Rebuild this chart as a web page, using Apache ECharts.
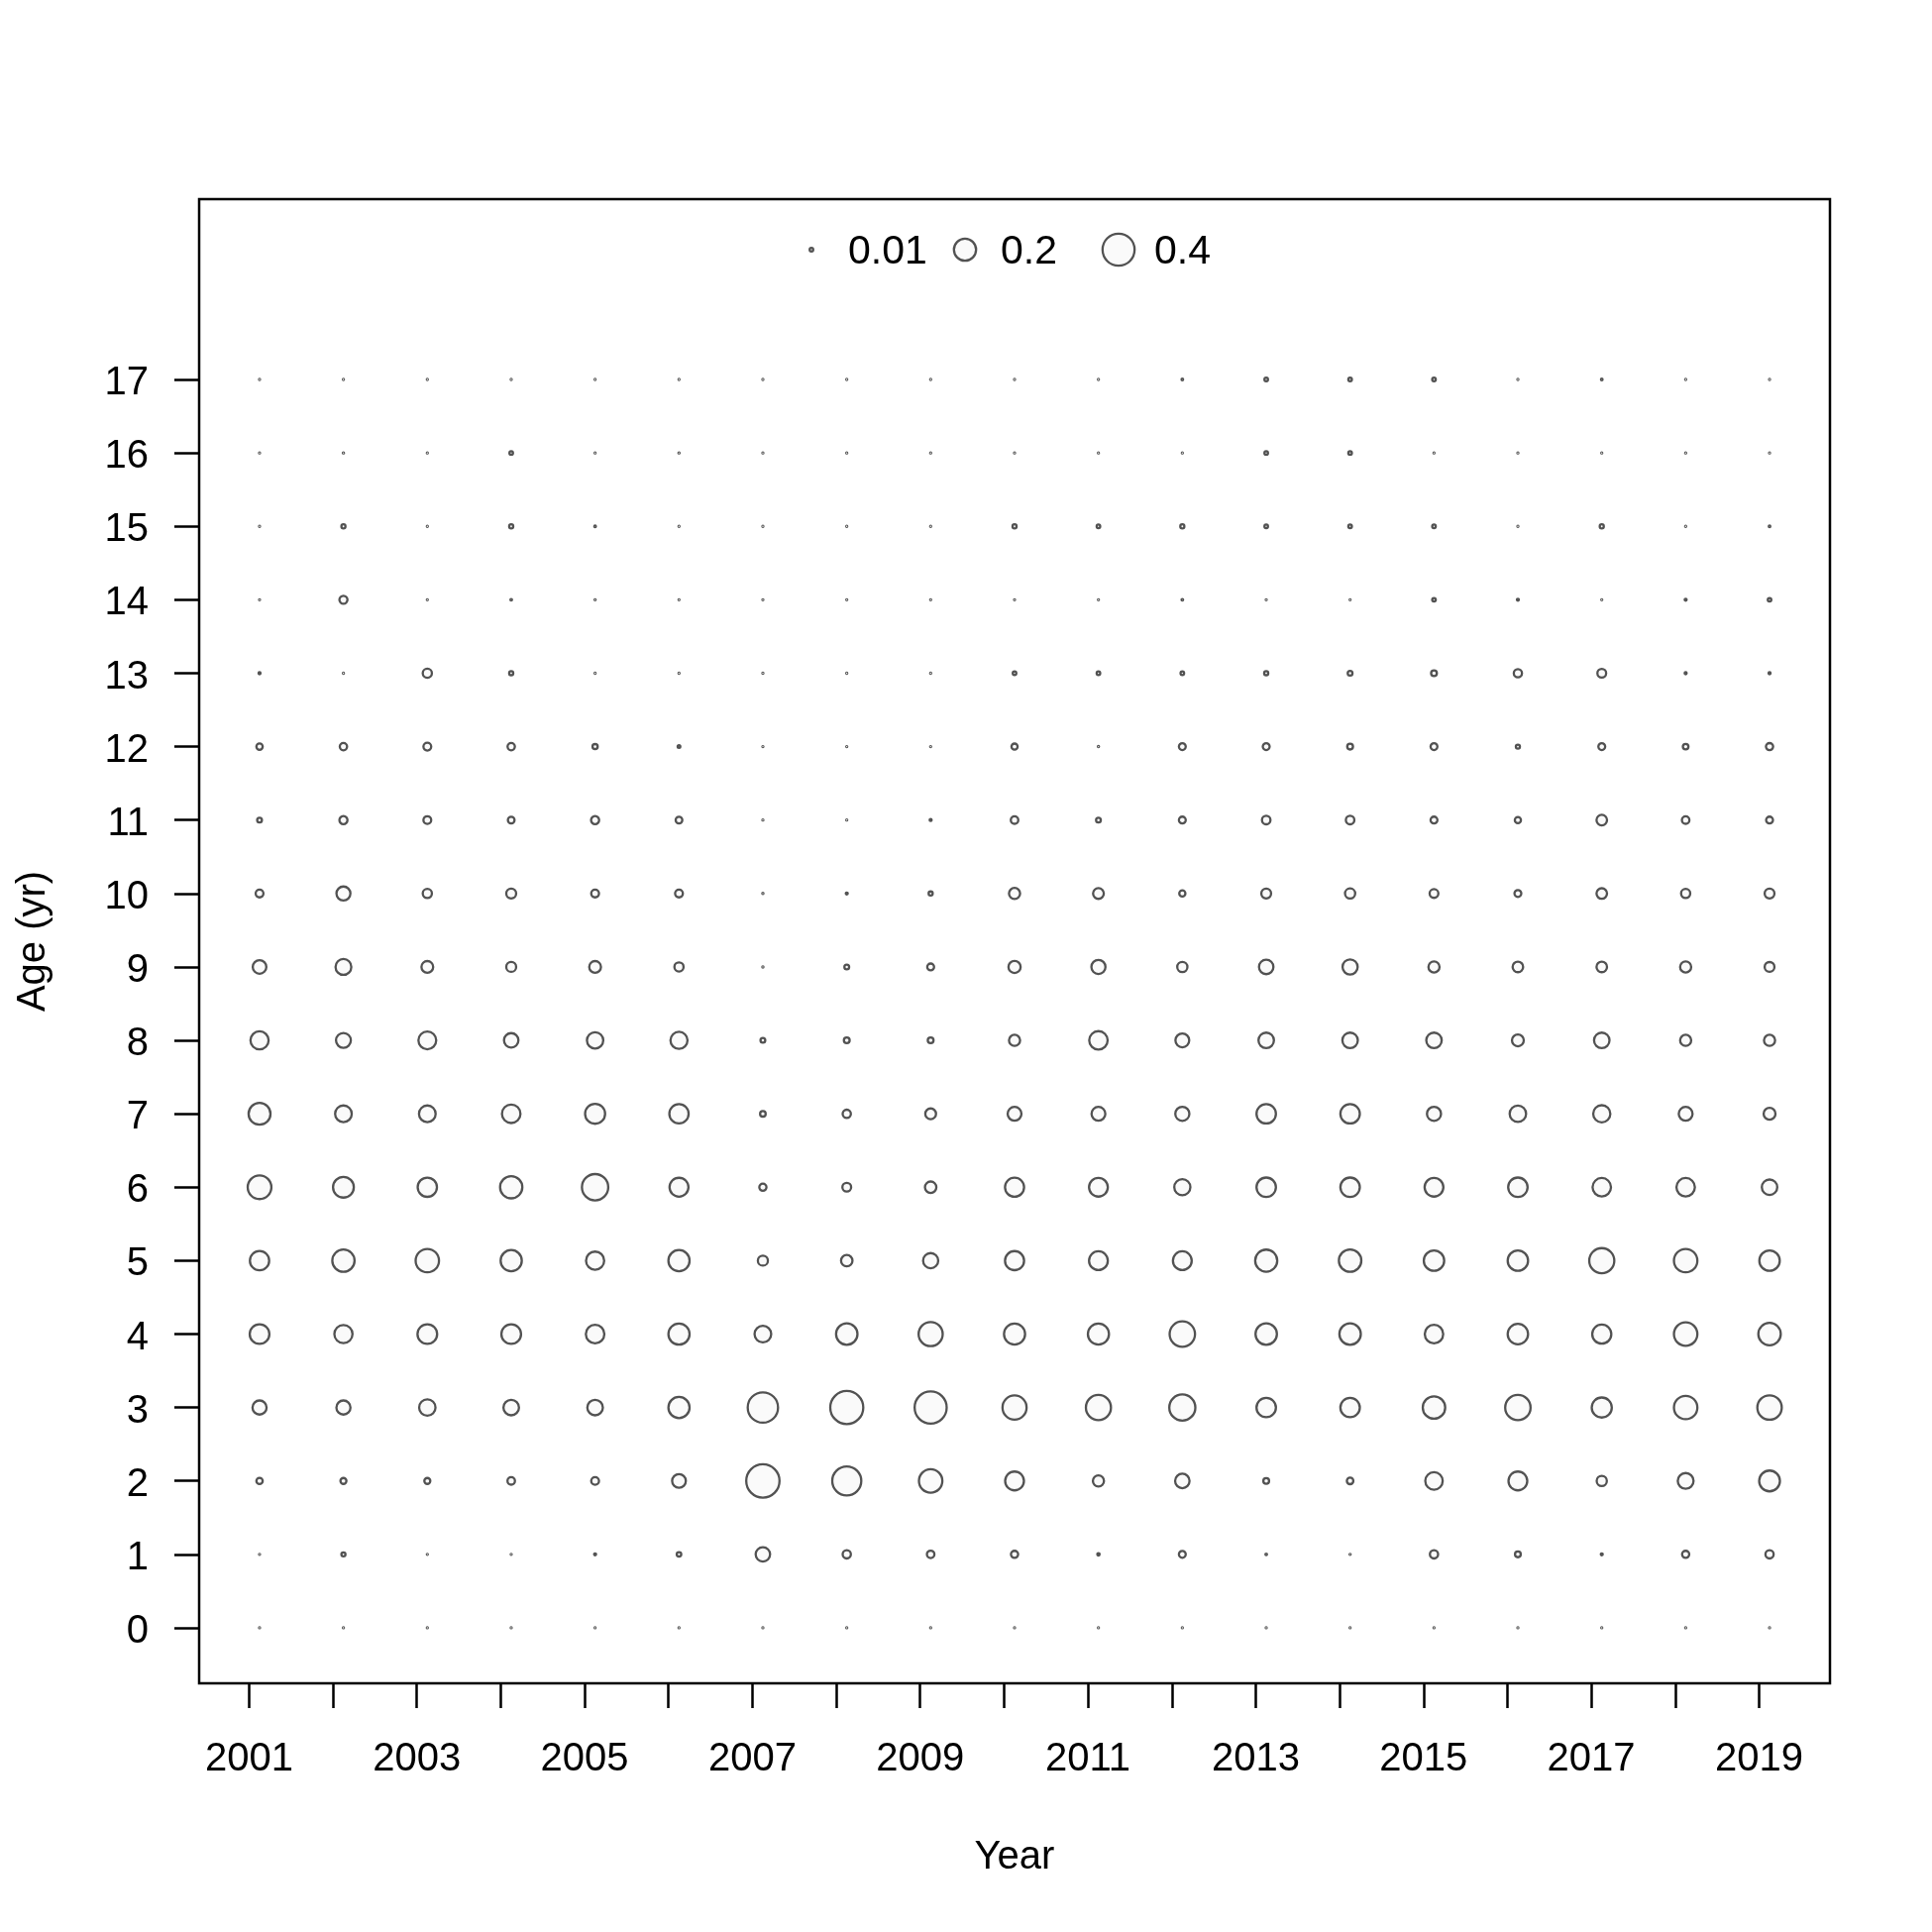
<!DOCTYPE html>
<html>
<head>
<meta charset="utf-8">
<script src="https://cdn.jsdelivr.net/npm/echarts@6/dist/echarts.min.js"></script>
<style>html,body{margin:0;padding:0;background:#fff}#c{width:1950px;height:1950px}</style>
</head>
<body>
<div id="c"></div>
<script>
// ---- data ----
const years = [2001,2002,2003,2004,2005,2006,2007,2008,2009,2010,2011,2012,2013,2014,2015,2016,2017,2018,2019];
const yearLabels = [2001,2003,2005,2007,2009,2011,2013,2015,2017,2019];
const ageTicks = [0,1,2,3,4,5,6,7,8,9,10,11,12,13,14,15,16,17];
const legendValues = [0.01, 0.2, 0.4];
const legendLabels = ['0.01', '0.2', '0.4'];
const sampleOffset = 0.125; // sampling time within year

// proportion at age, one array per age, columns = years 2001..2019
const age0  = [0.002,0.002,0.002,0.002,0.002,0.002,0.002,0.002,0.002,0.002,0.002,0.002,0.002,0.002,0.002,0.002,0.002,0.002,0.002];
const age1  = [0.002,0.012,0.002,0.002,0.005,0.014,0.092,0.035,0.030,0.028,0.006,0.026,0.004,0.003,0.035,0.020,0.005,0.028,0.035];
const age2  = [0.023,0.021,0.021,0.030,0.032,0.084,0.430,0.332,0.222,0.148,0.058,0.092,0.020,0.024,0.129,0.148,0.050,0.108,0.178];
const age3  = [0.088,0.088,0.115,0.105,0.105,0.184,0.360,0.423,0.400,0.234,0.252,0.271,0.157,0.157,0.205,0.258,0.167,0.222,0.240];
const age4  = [0.161,0.139,0.161,0.161,0.144,0.184,0.119,0.188,0.234,0.183,0.183,0.258,0.188,0.188,0.143,0.172,0.152,0.222,0.205];
const age5  = [0.155,0.202,0.221,0.184,0.139,0.184,0.049,0.061,0.100,0.152,0.148,0.148,0.199,0.205,0.172,0.172,0.252,0.222,0.172];
const age6  = [0.227,0.178,0.155,0.202,0.276,0.150,0.028,0.039,0.061,0.152,0.148,0.112,0.157,0.157,0.148,0.157,0.143,0.143,0.104];
const age7  = [0.196,0.119,0.119,0.144,0.166,0.155,0.019,0.035,0.055,0.085,0.085,0.088,0.157,0.157,0.088,0.116,0.125,0.085,0.065];
const age8  = [0.139,0.097,0.134,0.092,0.115,0.124,0.015,0.020,0.020,0.058,0.143,0.085,0.104,0.104,0.104,0.065,0.104,0.058,0.058];
const age9  = [0.083,0.108,0.064,0.048,0.064,0.042,0.003,0.015,0.026,0.068,0.088,0.050,0.092,0.100,0.058,0.053,0.053,0.058,0.047];
const age10 = [0.032,0.087,0.042,0.048,0.032,0.032,0.003,0.005,0.012,0.058,0.055,0.022,0.047,0.050,0.039,0.026,0.053,0.042,0.047];
const age11 = [0.015,0.034,0.032,0.025,0.034,0.025,0.002,0.002,0.005,0.030,0.015,0.026,0.037,0.037,0.026,0.022,0.053,0.030,0.026];
const age12 = [0.023,0.029,0.032,0.029,0.017,0.007,0.002,0.002,0.002,0.022,0.003,0.026,0.026,0.020,0.026,0.012,0.026,0.019,0.028];
const age13 = [0.005,0.002,0.042,0.012,0.002,0.002,0.002,0.002,0.002,0.010,0.010,0.010,0.012,0.015,0.020,0.035,0.039,0.005,0.005];
const age14 = [0.002,0.034,0.002,0.004,0.003,0.002,0.002,0.002,0.002,0.002,0.002,0.004,0.002,0.002,0.010,0.005,0.002,0.005,0.010];
const age15 = [0.002,0.012,0.002,0.012,0.004,0.002,0.002,0.002,0.002,0.012,0.010,0.012,0.010,0.010,0.010,0.002,0.012,0.002,0.004];
const age16 = [0.002,0.003,0.002,0.010,0.002,0.003,0.002,0.002,0.002,0.002,0.002,0.002,0.010,0.010,0.002,0.002,0.002,0.002,0.002];
const age17 = [0.002,0.002,0.002,0.002,0.002,0.002,0.002,0.002,0.002,0.002,0.002,0.004,0.010,0.010,0.010,0.002,0.004,0.002,0.002];
const ageRows = [age0,age1,age2,age3,age4,age5,age6,age7,age8,age9,age10,age11,age12,age13,age14,age15,age16,age17];

// ---- build ----
const STROKE = '#525252', FILL = '#fafafa', LW = 2.3;
function bubbleSize(p){ return Math.max(1, 54*Math.sqrt(p) - 1.8); }

const points = [];
ageRows.forEach((row, a) => {
  row.forEach((p, i) => { points.push([years[i] + sampleOffset, ageTicks[a], p]); });
});

const FONT = '"Liberation Sans", Arial, sans-serif';
const chart = echarts.init(document.getElementById('c'), null, {renderer:'canvas'});

const legendX = [819, 974, 1129];
const legendTextX = [856, 1010, 1165];
const graphics = [];
legendValues.forEach((v, i) => {
  const r = bubbleSize(v)/2;
  graphics.push({type:'circle', shape:{cx:legendX[i], cy:252, r:r}, style:{fill:FILL, stroke:STROKE, lineWidth:LW}, silent:true});
  graphics.push({type:'text', x:legendTextX[i], y:255, style:{text:legendLabels[i], font:'41px ' + FONT, fill:'#000', textAlign:'left', textVerticalAlign:'middle'}, silent:true});
});

chart.setOption({
  animation:false,
  backgroundColor:'#ffffff',
  grid:{left:201, right:103, top:201, bottom:251, show:true, borderColor:'#000', borderWidth:2.5, backgroundColor:'transparent'},
  xAxis:{
    type:'value', min:2000.405, max:2019.845,
    name:'Year', nameLocation:'middle', nameGap:156,
    nameTextStyle:{fontFamily:FONT, fontSize:40, color:'#000'},
    axisLine:{show:false, onZero:false},
    splitLine:{show:false},
    axisTick:{show:true, inside:false, length:25, lineStyle:{color:'#000', width:2.5}, customValues:years},
    axisLabel:{customValues:yearLabels, margin:57, fontFamily:FONT, fontSize:40, color:'#000', formatter:(v)=>String(Math.round(v))}
  },
  yAxis:{
    type:'value', min:-0.756, max:19.456,
    name:'Age (yr)', nameLocation:'middle', nameGap:147, nameRotate:90,
    nameTextStyle:{fontFamily:FONT, fontSize:40, color:'#000'},
    axisLine:{show:false, onZero:false},
    splitLine:{show:false},
    axisTick:{show:true, inside:false, length:25, lineStyle:{color:'#000', width:2.5}, customValues:ageTicks},
    axisLabel:{customValues:ageTicks, margin:51, fontFamily:FONT, fontSize:40, color:'#000',
      formatter:(v)=>'{a|' + Math.round(v) + '}',
      rich:{a:{fontFamily:FONT, fontSize:40, color:'#000', padding:[8,0,0,0]}}}
  },
  series:[{
    type:'scatter',
    data:points,
    symbol:'circle',
    symbolSize:(d)=>bubbleSize(d[2]),
    itemStyle:{color:FILL, borderColor:STROKE, borderWidth:LW, opacity:1},
    emphasis:{disabled:true},
    silent:true
  }],
  graphic:graphics
});
</script>
</body>
</html>
